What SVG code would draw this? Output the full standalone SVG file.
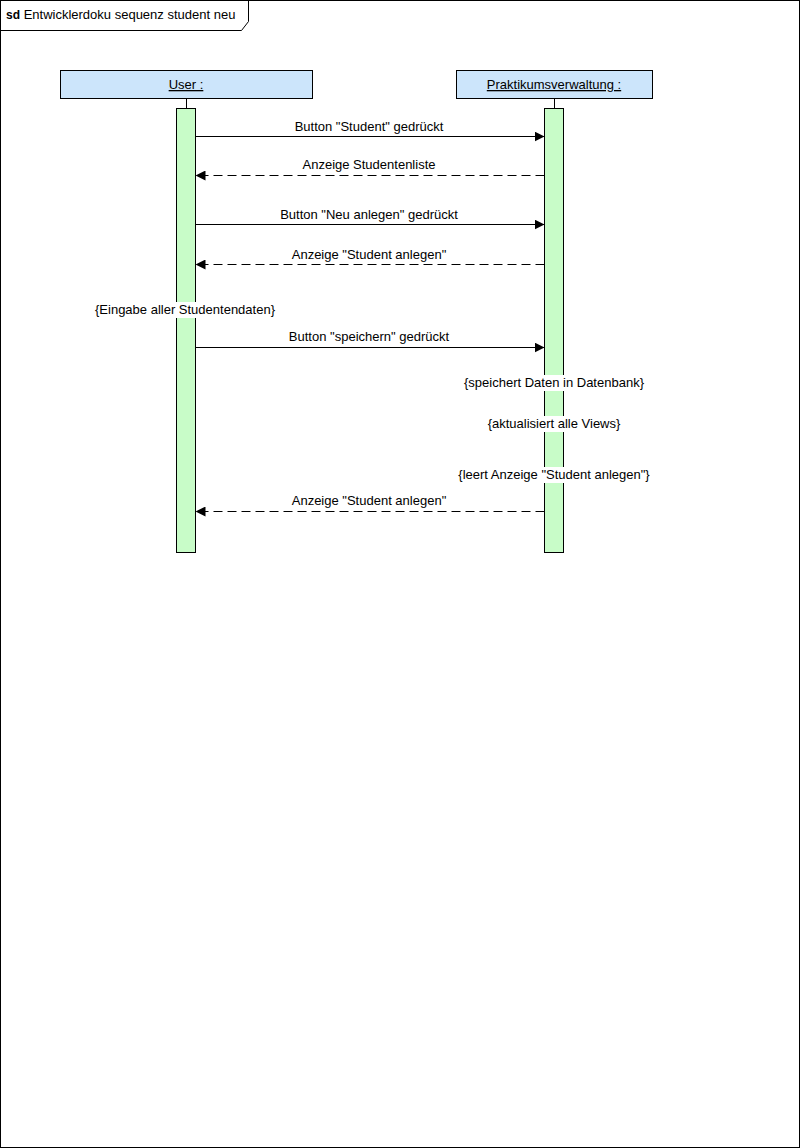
<svg xmlns="http://www.w3.org/2000/svg" width="800" height="1148" viewBox="0 0 800 1148">
<style>
text{font-family:"Liberation Sans",Arial,sans-serif;font-size:13px;fill:#000}
.head{fill:#cce5fb;stroke:#000;stroke-width:1}
.act{fill:#c8fcc8;stroke:#000;stroke-width:1}
.ll{stroke:#000;stroke-width:1}
.msg{stroke:#000;stroke-width:1;fill:none}
.ret{stroke:#000;stroke-width:1;fill:none;stroke-dasharray:9,5}
.bg{fill:#fff}
.u{text-decoration:underline}
</style>
<defs>
<marker id="arr" markerWidth="11" markerHeight="10" refX="10" refY="5" orient="auto" markerUnits="userSpaceOnUse">
<path d="M0,0 L10,5 L0,10 Z" fill="#000"/>
</marker>
</defs>
<g id="frame">
<rect x="0.5" y="0.5" width="799" height="1147" fill="#fff" stroke="#000"/>
<path d="M0.5,30.5 H241.5 L248.5,21.5 V0.5" fill="none" stroke="#000"/>
<text x="6" y="19"><tspan font-weight="bold" font-size="12">sd</tspan> Entwicklerdoku sequenz student neu</text>
</g>
<g id="user">
<rect class="head" x="60.5" y="70.5" width="252" height="28"/>
<text class="u" x="186" y="89" text-anchor="middle">User :</text>
<line class="ll" x1="186.5" y1="98.5" x2="186.5" y2="108.5"/>
<rect class="act" x="176.5" y="108.5" width="19" height="444"/>
</g>
<g id="praktikumsverwaltung">
<rect class="head" x="456.5" y="70.5" width="196" height="28"/>
<text class="u" x="554" y="89" text-anchor="middle">Praktikumsverwaltung :</text>
<line class="ll" x1="554.5" y1="98.5" x2="554.5" y2="108.5"/>
<rect class="act" x="544.5" y="108.5" width="19" height="444"/>
</g>
<g id="connectors">
<line class="msg" x1="195.5" y1="136.5" x2="544.5" y2="136.5" marker-end="url(#arr)"/>
<text x="369" y="131" text-anchor="middle">Button "Student" gedrückt</text>
<line class="ret" x1="544.5" y1="175.5" x2="195.5" y2="175.5" marker-end="url(#arr)"/>
<text x="369" y="169" text-anchor="middle">Anzeige Studentenliste</text>
<line class="msg" x1="195.5" y1="224.5" x2="544.5" y2="224.5" marker-end="url(#arr)"/>
<text x="369" y="219" text-anchor="middle">Button "Neu anlegen" gedrückt</text>
<line class="ret" x1="544.5" y1="264.5" x2="195.5" y2="264.5" marker-end="url(#arr)"/>
<text x="369" y="259" text-anchor="middle">Anzeige "Student anlegen"</text>
<line class="msg" x1="195.5" y1="347.5" x2="544.5" y2="347.5" marker-end="url(#arr)"/>
<text x="369" y="341" text-anchor="middle">Button "speichern" gedrückt</text>
<line class="ret" x1="544.5" y1="511.5" x2="195.5" y2="511.5" marker-end="url(#arr)"/>
<text x="369" y="505" text-anchor="middle">Anzeige "Student anlegen"</text>
</g>
<g id="note-eingabe">
<rect class="bg" x="91" y="302" width="190" height="16"/>
<text x="185" y="314" text-anchor="middle">{Eingabe aller Studentendaten}</text>
</g>
<g id="note-speichert">
<rect class="bg" x="459" y="375" width="190" height="16"/>
<text x="554" y="387" text-anchor="middle">{speichert Daten in Datenbank}</text>
</g>
<g id="note-aktualisiert">
<rect class="bg" x="482" y="416" width="144" height="16"/>
<text x="554" y="428" text-anchor="middle">{aktualisiert alle Views}</text>
</g>
<g id="note-leert">
<rect class="bg" x="452" y="467" width="204" height="16"/>
<text x="554" y="479" text-anchor="middle">{leert Anzeige "Student anlegen"}</text>
</g>
</svg>
